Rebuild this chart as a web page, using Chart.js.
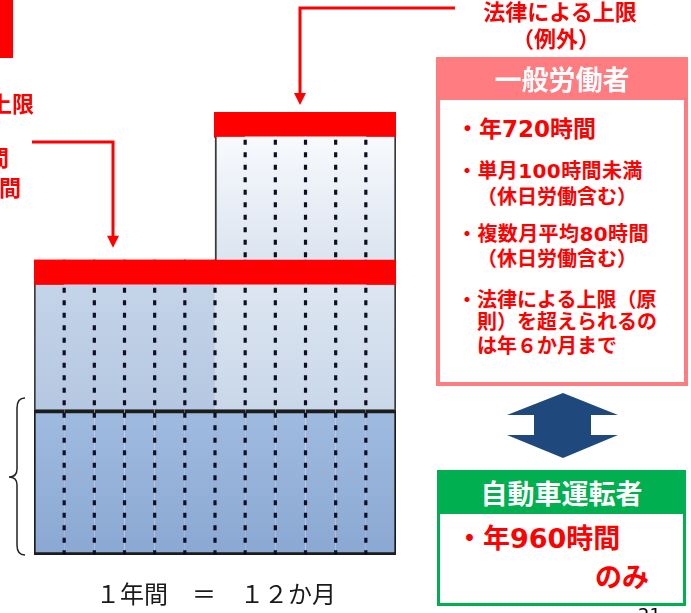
<!DOCTYPE html>
<html lang="ja">
<head>
<meta charset="utf-8">
<title>時間外労働の上限規制</title>
<script src="https://cdn.jsdelivr.net/npm/chart.js@4.4.1/dist/chart.umd.min.js"></script>
<style>
  html, body { margin: 0; padding: 0; background: #fff; }
  #wrap { position: relative; width: 691px; height: 613px; overflow: hidden;
    font-family: "Noto Sans CJK JP", "Noto Sans", sans-serif; }
  #wrap canvas { position: absolute; left: 0; top: 0; }
  .t { position: absolute; white-space: nowrap; line-height: 1; font-weight: 700; color: #ff0000; }
  .num { font-family: "DejaVu Sans", "Noto Sans CJK JP", sans-serif; }
  .head { position: absolute; color: #fff; font-weight: 700; display: flex;
    align-items: center; justify-content: center; }
  .body { position: absolute; box-sizing: border-box; background: #fff; }
</style>
</head>
<body>
<div id="wrap">
  <canvas id="chart" width="691" height="613"></canvas>

  <div style="position:absolute;left:0;top:0;width:13px;height:58px;background:#ff0000"></div>

  <!-- 左側（原則） -->
  <div class="t" style="right:657px;top:91px;font-size:22px">法律による上限</div>
  <div class="t num" style="right:682px;top:148px;font-size:22px">月45時間</div>
  <div class="t num" style="right:670px;top:178px;font-size:22px">年360時間</div>

  <!-- 上側（例外） -->
  <div class="t" style="left:400px;width:320px;text-align:center;top:-1px;font-size:22px">法律による上限</div>
  <div class="t" style="left:396px;width:320px;text-align:center;top:26px;font-size:22px">（例外）</div>

  <!-- 一般労働者 -->
  <div class="head" style="left:436px;top:57px;width:252px;height:43px;background:#ff7c80;font-size:27px">一般労働者</div>
  <div class="body" style="left:436px;top:100px;width:252px;height:286px;border:4px solid #ff7c80;border-top:0"></div>
  <div class="t num" style="left:456px;top:118px;font-size:23px">・年720時間</div>
  <div class="t num" style="left:457px;top:161px;font-size:20px;letter-spacing:0.4px">・単月100時間未満</div>
  <div class="t" style="left:477px;top:186px;font-size:20px">（休日労働含む）</div>
  <div class="t num" style="left:457px;top:224px;font-size:20px;letter-spacing:0.4px">・複数月平均80時間</div>
  <div class="t" style="left:477px;top:248px;font-size:20px">（休日労働含む）</div>
  <div class="t" style="left:457px;top:289px;font-size:20px">・法律による上限（原</div>
  <div class="t" style="left:477px;top:311px;font-size:20px">則）を超えられるの</div>
  <div class="t" style="left:477px;top:335px;font-size:20px">は年６か月まで</div>

  <!-- 自動車運転者 -->
  <div class="head" style="left:437px;top:470px;width:249px;height:44px;background:#00b050;font-size:27px">自動車運転者</div>
  <div class="body" style="left:437px;top:514px;width:249px;height:92px;border:3px solid #00b050;border-top:0"></div>
  <div class="t num" style="left:456px;top:525px;font-size:27px">・年960時間</div>
  <div class="t" style="left:595px;top:562px;font-size:27px">のみ</div>

  <div class="t" style="left:96px;top:581px;font-size:24px;font-weight:400;color:#1a1a1a">１年間　＝　１２か月</div>
  <div class="t num" style="left:638px;top:606px;font-size:18px;font-weight:400;color:#000">21</div>
</div>

<script>
// 1年間 = 12か月
const months = ['1月','2月','3月','4月','5月','6月','7月','8月','9月','10月','11月','12月'];
// 縦方向は例外の上限の上端を100とした相対値
const baseHours      = [32.8, 32.8, 32.8, 32.8, 32.8, 32.8, 32.8, 32.8, 32.8, 32.8, 32.8, 32.8];
const principleHours = [28.2, 28.2, 28.2, 28.2, 28.2, 28.2, 28.2, 28.2, 28.2, 28.2, 28.2, 28.2];
const principleLimit = [5.4, 5.4, 5.4, 5.4, 5.4, 5.4, 5.4, 5.4, 5.4, 5.4, 5.4, 5.4];
const exceptionHours = [0, 0, 0, 0, 0, 0, 28, 28, 28, 28, 28, 28];
const exceptionLimit = [0, 0, 0, 0, 0, 0, 5.6, 5.6, 5.6, 5.6, 5.6, 5.6];

function vGrad(c, lo, hi, cTop, cBottom) {
  const y = c.chart.scales.y;
  if (!y) return cBottom;
  const y0 = y.getPixelForValue(hi), y1 = y.getPixelForValue(lo);
  if (!isFinite(y0) || !isFinite(y1) || y0 === y1) return cBottom;
  const g = c.chart.ctx.createLinearGradient(0, y0, 0, y1);
  g.addColorStop(0, cTop);
  g.addColorStop(1, cBottom);
  return g;
}

function edges(first, last, extra) {
  return c => Object.assign({
    top: 0, bottom: 0,
    left: c.dataIndex === first ? 2 : 0,
    right: c.dataIndex === last ? 2 : 0
  }, extra || {});
}

const decor = {
  id: 'decor',
  afterDatasetsDraw(chart) {
    const ctx = chart.ctx;
    const y = chart.scales.y;
    const bars = chart.getDatasetMeta(0).data;
    ctx.save();
    ctx.strokeStyle = '#0e0e22';
    ctx.lineWidth = 3.2;
    ctx.setLineDash([5, 7.5]);
    for (let i = 1; i < bars.length; i++) {
      const x = (bars[i - 1].x + bars[i].x) / 2;
      const mid = baseHours[i] + principleHours[i];
      const segs = [[0, mid]];
      if (exceptionHours[i - 1] > 0 && exceptionHours[i] > 0) {
        const lo = mid + principleLimit[i];
        segs.push([lo, lo + exceptionHours[i]]);
      }
      segs.forEach(([lo, hi]) => {
        ctx.beginPath();
        ctx.moveTo(x, y.getPixelForValue(hi) + 3);
        ctx.lineTo(x, y.getPixelForValue(lo));
        ctx.stroke();
      });
    }
    ctx.restore();
  },
  afterDraw(chart) {
    const ctx = chart.ctx;
    const y = chart.scales.y;
    const arrowHead = (x, tip) => {
      ctx.beginPath();
      ctx.moveTo(x - 6, tip - 12);
      ctx.lineTo(x + 6, tip - 12);
      ctx.lineTo(x, tip);
      ctx.closePath();
      ctx.fill();
    };
    ctx.save();
    ctx.strokeStyle = '#ff0000';
    ctx.fillStyle = '#ff0000';
    ctx.lineWidth = 3;

    // 原則の上限への矢印
    const tip1 = y.getPixelForValue(baseHours[0] + principleHours[0] + principleLimit[0]) - 13;
    ctx.beginPath();
    ctx.moveTo(32, 142);
    ctx.lineTo(113, 142);
    ctx.lineTo(113, tip1 - 10);
    ctx.stroke();
    arrowHead(113, tip1);

    // 例外の上限への矢印
    const top = baseHours[11] + principleHours[11] + principleLimit[11] + exceptionHours[11] + exceptionLimit[11];
    const tip2 = y.getPixelForValue(top) - 7;
    ctx.beginPath();
    ctx.moveTo(455, 8);
    ctx.lineTo(300, 8);
    ctx.lineTo(300, tip2 - 10);
    ctx.stroke();
    arrowHead(300, tip2);

    // 波かっこ
    ctx.strokeStyle = '#222';
    ctx.lineWidth = 1.5;
    ctx.beginPath();
    ctx.moveTo(25, 398);
    ctx.quadraticCurveTo(17, 398, 17, 408);
    ctx.lineTo(17, 469);
    ctx.quadraticCurveTo(17, 477, 9, 477);
    ctx.quadraticCurveTo(17, 477, 17, 485);
    ctx.lineTo(17, 545);
    ctx.quadraticCurveTo(17, 555, 25, 555);
    ctx.stroke();

    // 上下矢印
    ctx.fillStyle = '#1f497d';
    ctx.beginPath();
    [[563, 393], [618, 415], [591, 415], [591, 435], [618, 435], [563, 458],
     [507, 435], [534, 435], [534, 415], [507, 415]].forEach(([px, py], k) => {
      if (k === 0) ctx.moveTo(px, py); else ctx.lineTo(px, py);
    });
    ctx.closePath();
    ctx.fill();
    ctx.restore();
  }
};

new Chart(document.getElementById('chart'), {
  type: 'bar',
  data: {
    labels: months,
    datasets: [
      {
        label: '法定労働時間',
        data: baseHours,
        backgroundColor: c => vGrad(c, 0, baseHours[c.dataIndex], '#a0bbe0', '#8aa8d2'),
        borderColor: '#1c1c1c',
        borderSkipped: false,
        borderWidth: edges(0, 11, { top: 4, bottom: 3 })
      },
      {
        label: '原則の範囲',
        data: principleHours,
        backgroundColor: c => {
          const lo = baseHours[c.dataIndex];
          const hi = lo + principleHours[c.dataIndex];
          return c.dataIndex < 6
            ? vGrad(c, lo, hi, '#c4d4e9', '#b5c8e1')
            : vGrad(c, lo, hi, '#dde6f1', '#c9d7e9');
        },
        borderColor: '#3a3a3a',
        borderSkipped: false,
        borderWidth: edges(0, 11)
      },
      {
        label: '法律による上限（原則）',
        data: principleLimit,
        backgroundColor: '#ff0000',
        borderWidth: 0,
        inflateAmount: 1
      },
      {
        label: '例外の範囲',
        data: exceptionHours,
        backgroundColor: c => {
          const lo = baseHours[c.dataIndex] + principleHours[c.dataIndex] + principleLimit[c.dataIndex];
          return vGrad(c, lo, lo + exceptionHours[c.dataIndex], '#f8fafd', '#dbe4f0');
        },
        borderColor: '#3a3a3a',
        borderSkipped: false,
        borderWidth: edges(6, 11)
      },
      {
        label: '法律による上限（例外）',
        data: exceptionLimit,
        backgroundColor: '#ff0000',
        borderWidth: 0,
        inflateAmount: 1
      }
    ]
  },
  options: {
    responsive: false,
    animation: false,
    layout: { padding: { left: 34, right: 295, top: 112, bottom: 58 } },
    datasets: { bar: { barPercentage: 1, categoryPercentage: 1 } },
    scales: {
      x: { stacked: true, display: false },
      y: { stacked: true, display: false, min: 0, max: 100 }
    },
    plugins: { legend: { display: false }, tooltip: { enabled: false } }
  },
  plugins: [decor]
});
</script>
</body>
</html>
